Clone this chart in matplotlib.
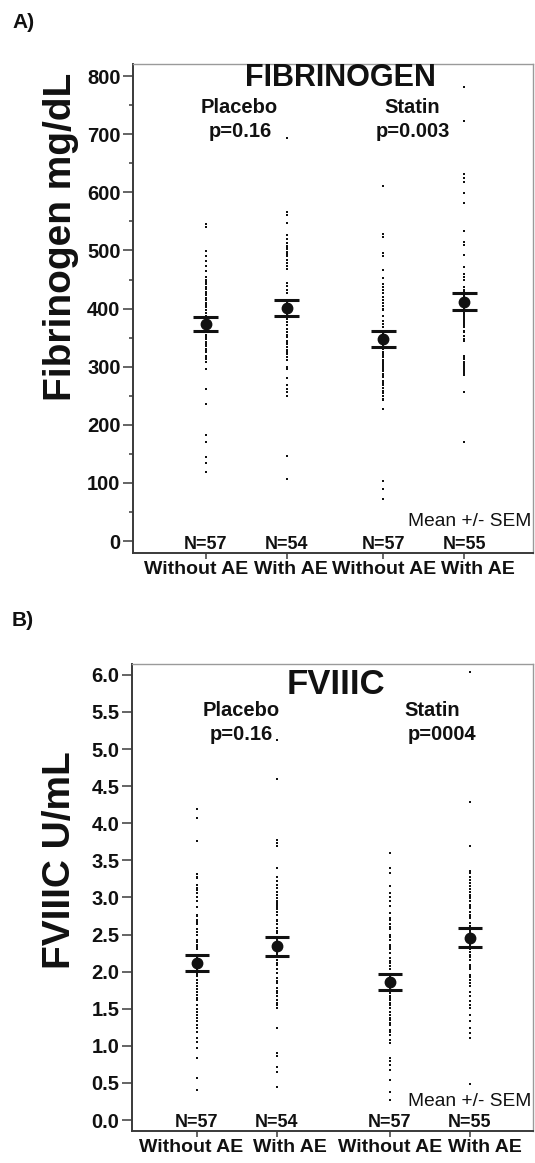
import matplotlib

matplotlib.use("Agg")

import matplotlib.pyplot as plt
from matplotlib.ticker import MultipleLocator
from matplotlib.transforms import ScaledTranslation

plt.rcParams["font.family"] = ["Liberation Sans", "DejaVu Sans"]

INK = "#111111"
SPINE = "#3a3a3a"
FRAME = "#9a9a9a"

GROUP_LABELS = ["Without AE", "With AE", "Without AE", "With AE"]
GROUP_N = ["N=57", "N=54", "N=57", "N=55"]

# fibrinogen, mg/dL
fib_placebo_without = [545, 541, 499, 490, 482, 473, 464, 455, 450, 446, 442, 437, 433, 429, 427,
                       423, 419, 416, 414, 410, 406, 404, 402, 398, 393, 388, 384, 380, 377, 375,
                       372, 370, 368, 365, 362, 359, 354, 351, 348, 342, 339, 336, 331, 328, 325,
                       319, 316, 313, 308, 296, 261, 236, 183, 170, 144, 134, 119]
fib_placebo_with = [693, 567, 561, 548, 526, 520, 513, 508, 505, 503, 498, 494, 490, 484, 479,
                    473, 469, 444, 439, 432, 426, 411, 408, 404, 400, 396, 392, 388, 385, 382,
                    377, 372, 365, 359, 355, 351, 345, 342, 339, 334, 328, 325, 322, 316, 311,
                    300, 296, 281, 268, 262, 256, 250, 147, 106]
fib_statin_without = [611, 529, 524, 495, 490, 466, 452, 443, 437, 432, 426, 420, 414, 409, 405,
                      400, 397, 388, 379, 374, 368, 362, 358, 354, 350, 346, 342, 338, 334, 330,
                      326, 322, 319, 316, 311, 308, 305, 302, 299, 296, 293, 288, 285, 282, 276,
                      272, 268, 264, 259, 255, 250, 245, 242, 228, 104, 90, 73]
fib_statin_with = [781, 722, 631, 625, 618, 599, 581, 534, 515, 509, 492, 472, 460, 455, 449,
                   437, 432, 428, 424, 420, 416, 412, 408, 404, 400, 398, 394, 391, 387, 385,
                   382, 379, 376, 374, 371, 368, 362, 359, 352, 348, 345, 319, 316, 313, 308,
                   305, 302, 299, 296, 293, 290, 288, 285, 256, 170]
fib_mean = [374, 401, 348, 412]
fib_sem = [12, 14.5, 14, 15]

# FVIIIC, U/mL
f8_placebo_without = [4.19, 4.07, 3.76, 3.31, 3.28, 3.26, 3.17, 3.13, 3.10, 3.06, 3.01, 2.95,
                      2.87, 2.77, 2.75, 2.70, 2.67, 2.64, 2.57, 2.53, 2.50, 2.43, 2.40, 2.36,
                      2.33, 2.30, 2.20, 2.16, 2.12, 2.08, 2.04, 2.01, 1.97, 1.94, 1.89, 1.85,
                      1.80, 1.76, 1.72, 1.69, 1.65, 1.62, 1.55, 1.50, 1.45, 1.42, 1.37, 1.33,
                      1.28, 1.24, 1.19, 1.10, 1.05, 0.97, 0.83, 0.57, 0.41]
f8_placebo_with = [5.12, 4.60, 3.78, 3.73, 3.69, 3.40, 3.28, 3.22, 3.17, 3.13, 3.08, 3.04, 2.99,
                   2.95, 2.93, 2.90, 2.87, 2.84, 2.81, 2.77, 2.70, 2.68, 2.64, 2.59, 2.55, 2.52,
                   2.45, 2.40, 2.36, 2.32, 2.28, 2.25, 2.16, 2.12, 2.09, 2.03, 1.98, 1.91, 1.88,
                   1.85, 1.78, 1.74, 1.71, 1.67, 1.62, 1.58, 1.55, 1.51, 1.24, 0.90, 0.86, 0.72,
                   0.65, 0.45]
f8_statin_without = [3.60, 3.40, 3.33, 3.15, 3.06, 3.01, 2.95, 2.88, 2.79, 2.72, 2.70, 2.64,
                     2.60, 2.57, 2.50, 2.47, 2.43, 2.36, 2.33, 2.30, 2.25, 2.18, 2.15, 2.12,
                     2.07, 2.03, 1.95, 1.91, 1.87, 1.83, 1.79, 1.75, 1.71, 1.67, 1.64, 1.62,
                     1.58, 1.55, 1.51, 1.46, 1.42, 1.38, 1.35, 1.31, 1.28, 1.22, 1.18, 1.15,
                     1.08, 1.04, 0.83, 0.79, 0.74, 0.68, 0.54, 0.38, 0.27]
f8_statin_with = [6.04, 5.19, 4.29, 3.70, 3.36, 3.33, 3.28, 3.24, 3.19, 3.15, 3.12, 3.08, 3.04,
                  3.01, 2.99, 2.95, 2.90, 2.88, 2.86, 2.81, 2.77, 2.75, 2.73, 2.66, 2.62, 2.56,
                  2.52, 2.48, 2.44, 2.40, 2.37, 2.30, 2.27, 2.23, 2.20, 2.16, 2.09, 2.06, 2.03,
                  1.96, 1.93, 1.89, 1.85, 1.80, 1.73, 1.67, 1.60, 1.55, 1.51, 1.42, 1.33, 1.24,
                  1.17, 1.10, 0.48]
f8_mean = [2.115, 2.34, 1.86, 2.46]
f8_sem = [0.105, 0.128, 0.11, 0.13]


def style_axis(axis):
    for side in ("left", "bottom"):
        axis.spines[side].set_color(SPINE)
        axis.spines[side].set_linewidth(1.4)
    for side in ("top", "right"):
        axis.spines[side].set_color(FRAME)
        axis.spines[side].set_linewidth(1.0)
    axis.tick_params(axis="y", which="major", length=7, width=1.1, color=SPINE,
                     labelsize=14.5, pad=2)
    axis.tick_params(axis="y", which="minor", length=3, width=1.1, color=SPINE)
    axis.tick_params(axis="x", length=4, width=1.1, color=SPINE, labelsize=14, pad=2)
    for label in axis.get_xticklabels() + axis.get_yticklabels():
        label.set_fontweight("bold")
        label.set_color(INK)


def draw_panel(axis, groups, means, sems, positions, cap_half):
    for x, values in zip(positions, groups):
        axis.plot([x] * len(values), values, linestyle="none", marker="s",
                  markersize=1.8, markeredgewidth=0, color=INK)
    axis.vlines(positions, [m - s for m, s in zip(means, sems)],
                [m + s for m, s in zip(means, sems)], color=INK, linewidth=1.4)
    for x, m, s in zip(positions, means, sems):
        axis.hlines([m - s, m + s], x - cap_half, x + cap_half, color=INK, linewidth=2.2)
    axis.plot(positions, means, linestyle="none", marker="o", markersize=7.5, color=INK)
    axis.set_xticks(positions, GROUP_LABELS)
    for x, text in zip(positions, GROUP_N):
        axis.text(x, 0.018, text, transform=axis.get_xaxis_transform(), ha="center",
                  va="center", fontsize=13, fontweight="bold", color=INK)
    axis.text(0.997, 0.064, "Mean +/- SEM", transform=axis.transAxes, ha="right",
              va="center", fontsize=13.8, color=INK)


def shift_xlabels(figure, axis, offsets):
    for label, dx in zip(axis.get_xticklabels(), offsets):
        label.set_transform(label.get_transform()
                            + ScaledTranslation(dx / 100, 0, figure.dpi_scale_trans))


def main():
    figure = plt.figure(figsize=(5.35, 11.63), dpi=100, facecolor="white")

    # panel A: fibrinogen
    top = figure.add_axes([0.2486, 0.5245, 0.7477, 0.4205])
    fib_pos = [1, 2, 3.19, 4.19]
    draw_panel(top, [fib_placebo_without, fib_placebo_with, fib_statin_without, fib_statin_with],
               fib_mean, fib_sem, fib_pos, 0.155)
    top.set_xlim(0.1, 5.04)
    top.set_ylim(-20.6, 821)
    top.yaxis.set_major_locator(MultipleLocator(100))
    top.yaxis.set_minor_locator(MultipleLocator(50))
    style_axis(top)
    shift_xlabels(figure, top, [-9.5, 4, 1, 13.5])
    top.text(0.5175, 0.971, "FIBRINOGEN", transform=top.transAxes, ha="center", va="center",
             fontsize=22, fontweight="bold", color=INK)
    for x, y, text in [(0.265, 0.910, "Placebo"), (0.2675, 0.861, "p=0.16"),
                       (0.699, 0.910, "Statin"), (0.70, 0.861, "p=0.003")]:
        top.text(x, y, text, transform=top.transAxes, ha="center", va="center",
                 fontsize=14.5, fontweight="bold", color=INK)
    top.text(-0.18, 0.646, "Fibrinogen mg/dL", transform=top.transAxes, rotation=90,
             ha="center", va="center", fontsize=28, fontweight="bold", color=INK)

    # panel B: FVIIIC
    bottom = figure.add_axes([0.2467, 0.0275, 0.7495, 0.4015])
    f8_pos = [1, 2, 3.41, 4.41]
    draw_panel(bottom, [f8_placebo_without, f8_placebo_with, f8_statin_without, f8_statin_with],
               f8_mean, f8_sem, f8_pos, 0.15)
    bottom.set_xlim(0.1875, 5.2)
    bottom.set_ylim(-0.148, 6.146)
    bottom.yaxis.set_major_locator(MultipleLocator(0.5))
    bottom.yaxis.set_major_formatter("{x:.1f}")
    style_axis(bottom)
    shift_xlabels(figure, bottom, [-6, 12.5, 0, 15])
    bottom.text(0.509, 0.957, "FVIIIC", transform=bottom.transAxes, ha="center", va="center",
                fontsize=25, fontweight="bold", color=INK)
    for x, y, text in [(0.272, 0.9015, "Placebo"), (0.272, 0.850, "p=0.16"),
                       (0.749, 0.9015, "Statin"), (0.773, 0.850, "p=0004")]:
        bottom.text(x, y, text, transform=bottom.transAxes, ha="center", va="center",
                    fontsize=14.5, fontweight="bold", color=INK)
    bottom.text(-0.18, 0.58, "FVIIIC U/mL", transform=bottom.transAxes, rotation=90,
                ha="center", va="center", fontsize=28, fontweight="bold", color=INK)

    figure.text(12 / 535, 1 - 22 / 1163, "A)", ha="left", va="center", fontsize=15,
                fontweight="bold", color=INK)
    figure.text(12 / 535, 1 - 620 / 1163, "B)", ha="left", va="center", fontsize=15,
                fontweight="bold", color=INK)

    figure.savefig("out.png", dpi=100, facecolor="white")
    plt.close(figure)


if __name__ == "__main__":
    main()
